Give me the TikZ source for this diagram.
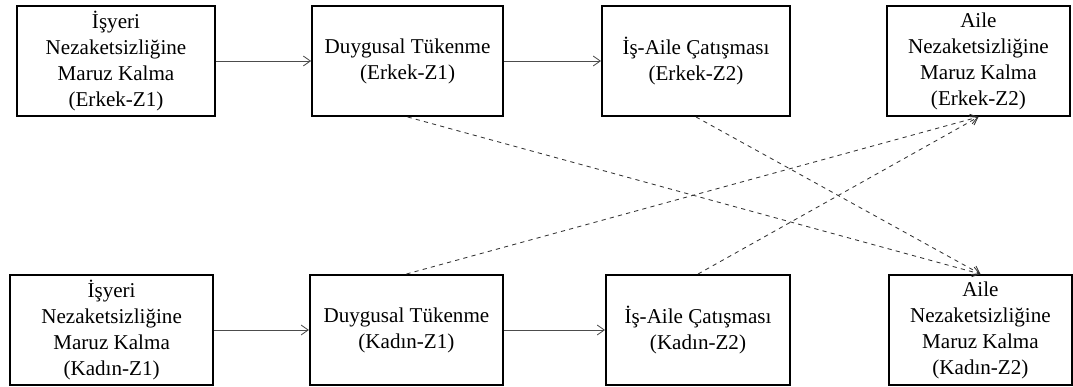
\documentclass[tikz,border=0pt]{standalone}
\usepackage{fontspec}
\setmainfont{Liberation Serif}
\usepackage{tikz}
\usetikzlibrary{arrows.meta}

\begin{document}
\begin{tikzpicture}[
    every node/.style={font=\fontsize{15}{18.5}\selectfont, align=center, inner sep=0pt},
    varbox/.style={draw, line width=1.4pt, minimum height=2.75cm},
    path/.style={-{Straight Barb[length=5pt,width=7pt]}, draw=black!70, line width=0.6pt},
    crosspath/.style={path, dashed, draw=black!80}]
    \useasboundingbox (0,0) rectangle (26.825,9.675);
    % Erkek (top row)
    \node[varbox, minimum width=4.95cm]  (wrkE) at ( 2.90, 8.15) {İşyeri\\Nezaketsizliğine\\Maruz Kalma\\(Erkek-Z1)};
    \node[varbox, minimum width=4.775cm] (exhE) at (10.19, 8.15) {Duygusal Tükenme\\(Erkek-Z1)};
    \node[varbox, minimum width=4.7cm]   (wfcE) at (17.40, 8.15) {İş-Aile Çatışması\\(Erkek-Z2)};
    \node[varbox, minimum width=4.575cm] (famE) at (24.46, 8.15) {Aile\\Nezaketsizliğine\\Maruz Kalma\\(Erkek-Z2)};
    % Kadin (bottom row)
    \node[varbox, minimum width=5.075cm] (wrkK) at ( 2.79, 1.425) {İşyeri\\Nezaketsizliğine\\Maruz Kalma\\(Kadın-Z1)};
    \node[varbox, minimum width=4.825cm] (exhK) at (10.16, 1.425) {Duygusal Tükenme\\(Kadın-Z1)};
    \node[varbox, minimum width=4.6cm]   (wfcK) at (17.45, 1.425) {İş-Aile Çatışması\\(Kadın-Z2)};
    \node[varbox, minimum width=4.575cm] (famK) at (24.51, 1.425) {Aile\\Nezaketsizliğine\\Maruz Kalma\\(Kadın-Z2)};
    % within-group paths
    \draw[path] (wrkE) -- (exhE);
    \draw[path] (exhE) -- (wfcE);
    \draw[path] (wrkK) -- (exhK);
    \draw[path] (exhK) -- (wfcK);
    % crossover paths
    \draw[crosspath] (exhE.south) -- (famK.north);
    \draw[crosspath] (wfcE.south) -- (famK.north);
    \draw[crosspath] (exhK.north) -- (famE.south);
    \draw[crosspath] (wfcK.north) -- (famE.south);
\end{tikzpicture}
\end{document}
